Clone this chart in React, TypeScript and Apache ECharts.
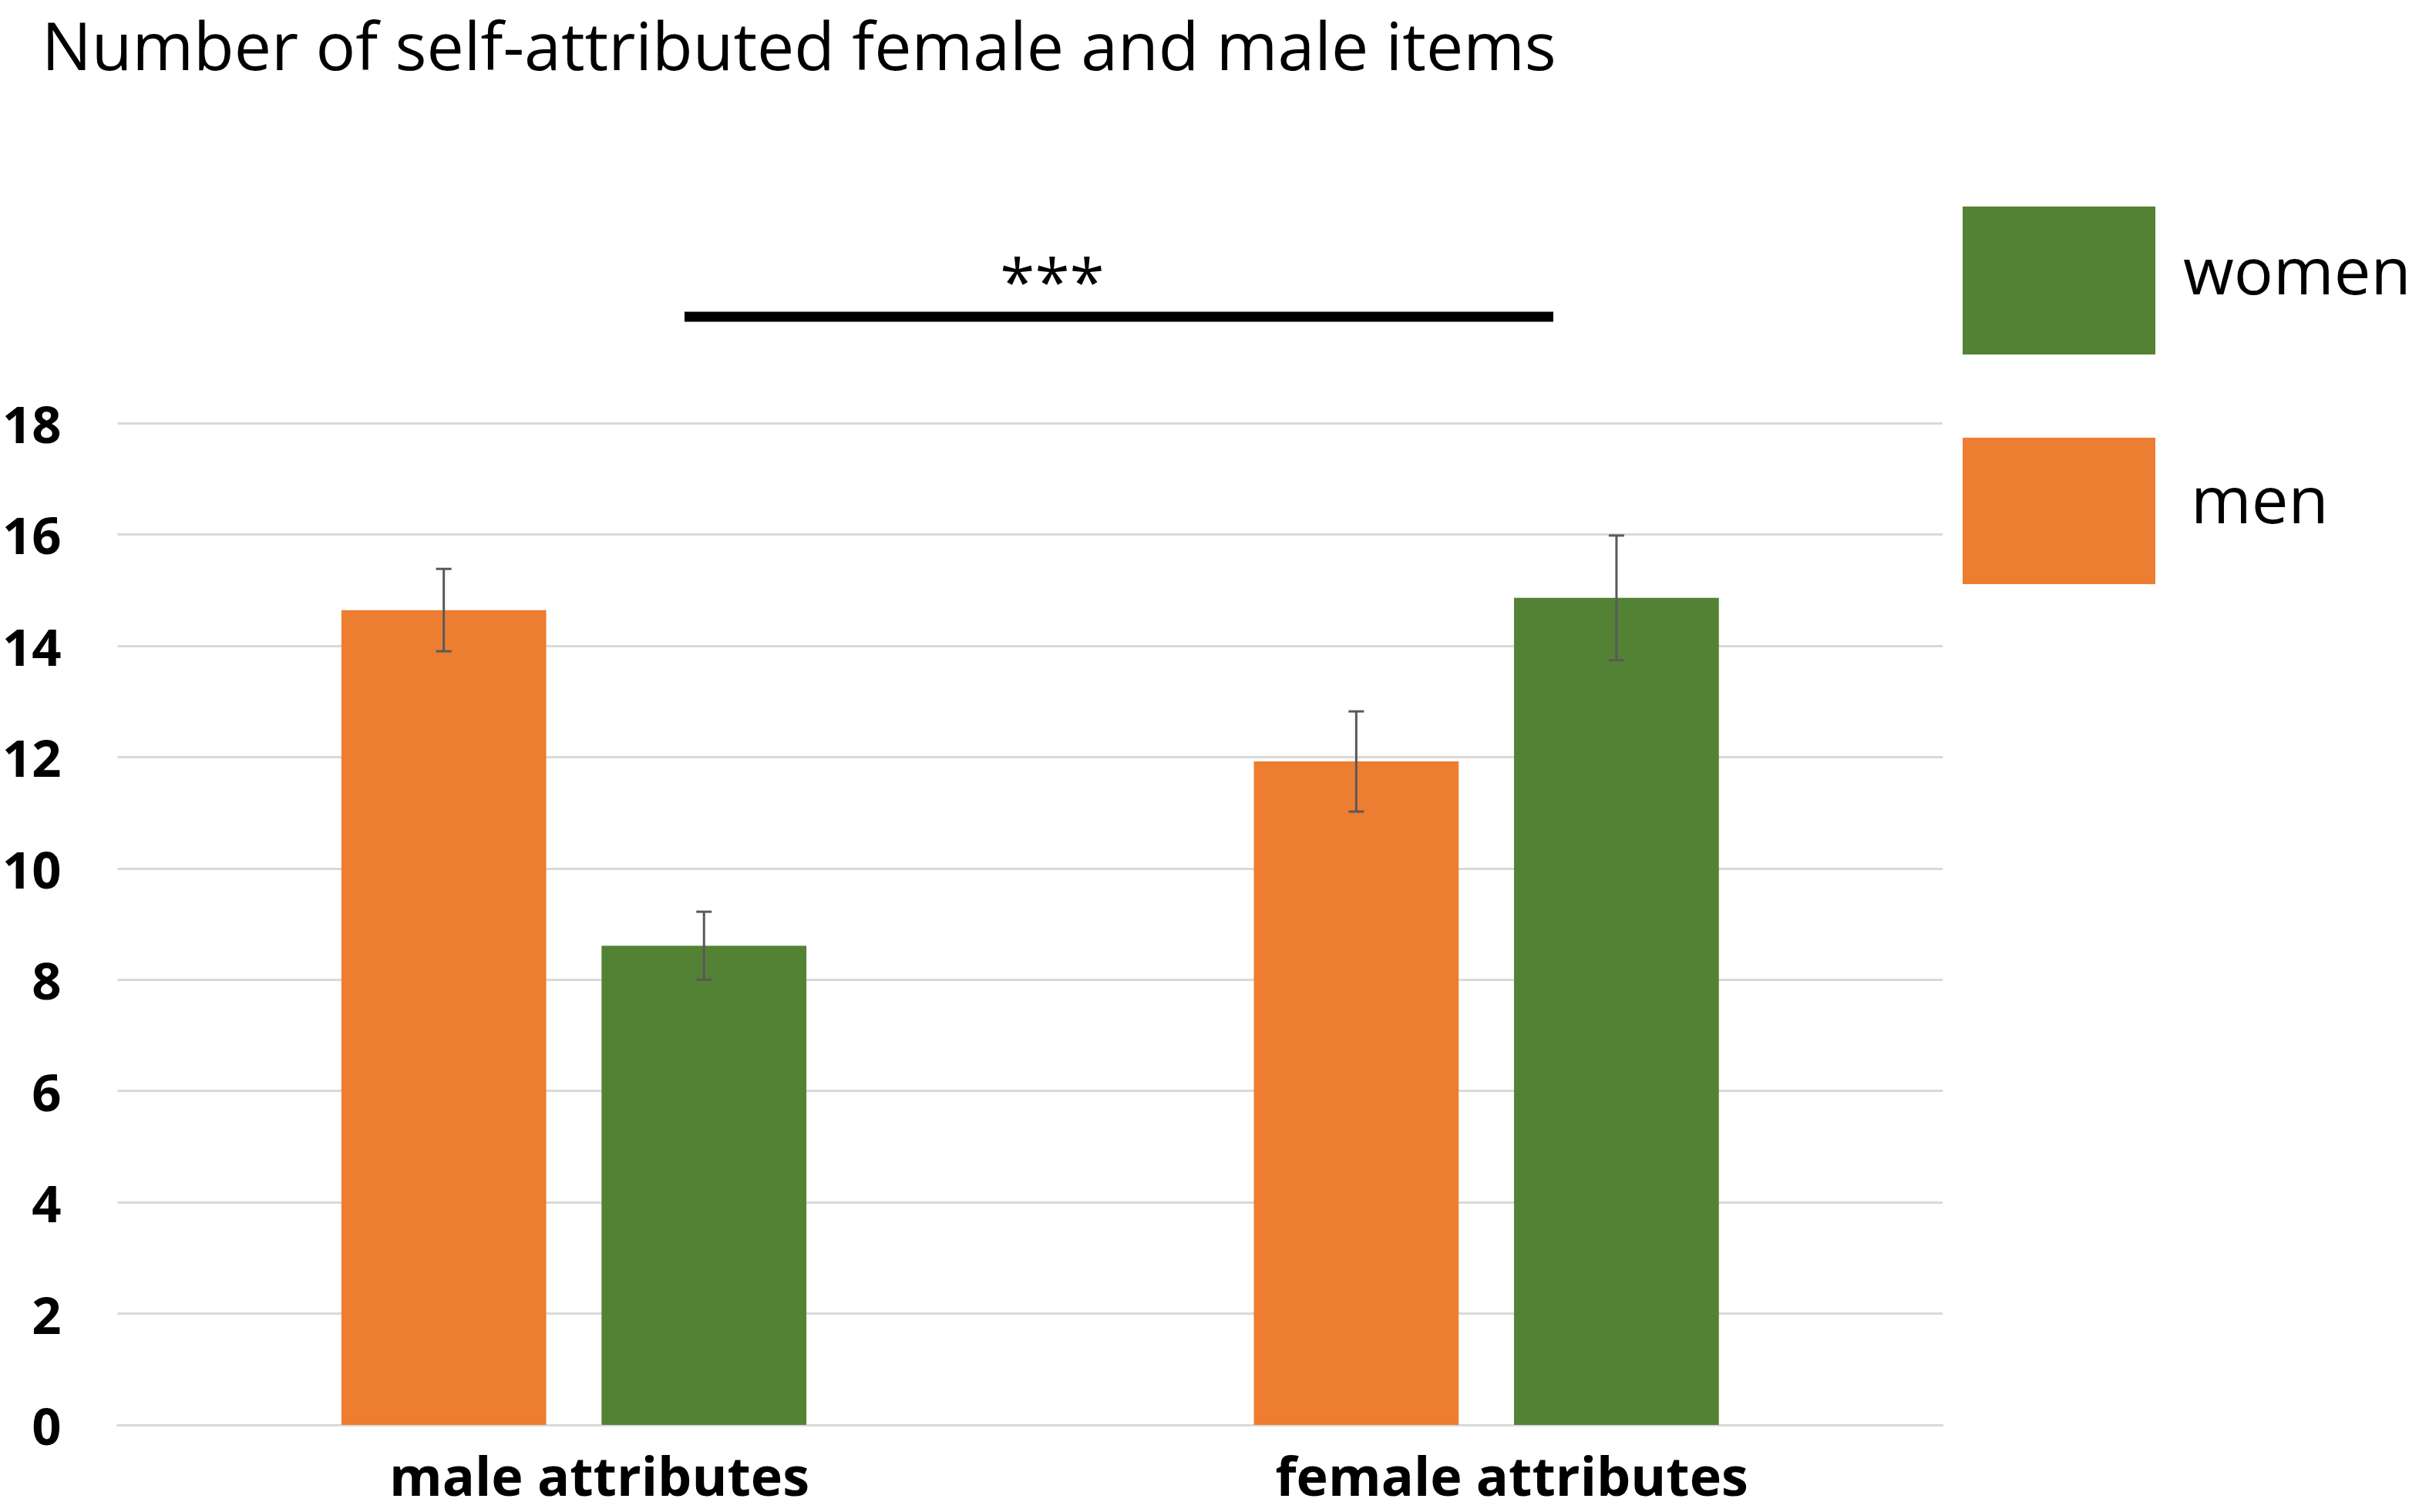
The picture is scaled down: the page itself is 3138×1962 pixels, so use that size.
import React, { useEffect, useRef } from "react";
import * as echarts from "echarts";

const categories = ["male attributes", "female attributes"];
const menValues = [14.64, 11.92];
const womenValues = [8.61, 14.86];
const menErrors = [0.74, 0.9];
const womenErrors = [0.61, 1.12];
const yTicks = { min: 0, max: 18, interval: 2 };
const titleText = "Number of self-attributed female and male items";
const significance = "***";
const legendLabels = ["women", "men"];

const FONT = "'Open Sans', sans-serif";
const ORANGE = "#ED7D31";
const GREEN = "#548235";
const ERR = "#595959";

function errorSeries(name: string, values: number[], errors: number[], sign: number) {
  return {
    type: "custom",
    name: name + "-err",
    z: 5,
    silent: true,
    encode: { x: 0, y: 1 },
    data: values.map((v, i) => [i, v, errors[i]]),
    renderItem: (params: any, api: any) => {
      const cat = api.value(0);
      const mean = api.value(1);
      const err = api.value(2);
      const band = api.size([1, 0])[0];
      const c = api.coord([cat, mean]);
      const x = c[0] + sign * band * 0.1426;
      const top = api.coord([cat, mean + err])[1];
      const bot = api.coord([cat, mean - err])[1];
      const cap = 10;
      const style = { stroke: ERR, lineWidth: 3 };
      return {
        type: "group",
        children: [
          { type: "line", shape: { x1: x, y1: top, x2: x, y2: bot }, style },
          { type: "line", shape: { x1: x - cap, y1: top, x2: x + cap, y2: top }, style },
          { type: "line", shape: { x1: x - cap, y1: bot, x2: x + cap, y2: bot }, style },
        ],
      };
    },
  };
}

export default function App() {
  const ref = useRef<HTMLDivElement>(null);
  useEffect(() => {
    if (!ref.current) return;
    const chart = echarts.init(ref.current, undefined, { renderer: "svg" });
    const legendText = (text: string, x: number, y: number) => ({
      type: "text",
      x,
      y,
      style: {
        text,
        fontFamily: FONT,
        fontSize: 85,
        fill: "#000",
        align: "left",
        verticalAlign: "middle",
      },
    });
    chart.setOption({
      animation: false,
      backgroundColor: "#ffffff",
      title: {
        text: titleText,
        left: 54,
        top: 14,
        padding: 0,
        textStyle: { fontFamily: FONT, fontSize: 86, fontWeight: "normal", color: "#000" },
      },
      grid: { left: 150, right: 618, top: 549, bottom: 113, containLabel: false },
      xAxis: {
        type: "category",
        data: categories,
        axisLine: { show: true, lineStyle: { color: "#d9d9d9", width: 3 } },
        axisTick: { show: false },
        axisLabel: {
          fontFamily: FONT,
          fontSize: 70,
          fontWeight: "bold",
          color: "#000",
          margin: 30,
          padding: [0, 0, 0, 66],
        },
      },
      yAxis: {
        type: "value",
        min: yTicks.min,
        max: yTicks.max,
        interval: yTicks.interval,
        axisLine: { show: false },
        axisTick: { show: false },
        splitLine: { lineStyle: { color: "#d9d9d9", width: 3 } },
        axisLabel: {
          fontFamily: FONT,
          fontSize: 67,
          fontWeight: "bold",
          color: "#000",
          margin: 73,
        },
      },
      series: [
        {
          type: "bar",
          name: "men",
          data: menValues,
          barWidth: "22.45%",
          barGap: "27%",
          itemStyle: { color: ORANGE },
        },
        {
          type: "bar",
          name: "women",
          data: womenValues,
          barWidth: "22.45%",
          barGap: "27%",
          itemStyle: { color: GREEN },
        },
        errorSeries("men", menValues, menErrors, -1),
        errorSeries("women", womenValues, womenErrors, 1),
      ],
      graphic: [
        { type: "rect", shape: { x: 2546, y: 268, width: 250, height: 192 }, style: { fill: GREEN } },
        { type: "rect", shape: { x: 2546, y: 568, width: 250, height: 190 }, style: { fill: ORANGE } },
        legendText(legendLabels[0], 2832, 349),
        legendText(legendLabels[1], 2842, 646),
        {
          type: "line",
          shape: { x1: 888, y1: 411, x2: 2015, y2: 411 },
          style: { stroke: "#000", lineWidth: 13 },
        },
        {
          type: "text",
          x: 1365,
          y: 364,
          style: {
            text: significance,
            fontFamily: FONT,
            fontSize: 82,
            fill: "#000",
            align: "center",
            verticalAlign: "middle",
          },
        },
      ],
    });
    return () => chart.dispose();
  }, []);
  return (
    <div
      ref={ref}
      style={{ position: "absolute", left: 0, top: 0, width: 3138, height: 1962 }}
    />
  );
}
